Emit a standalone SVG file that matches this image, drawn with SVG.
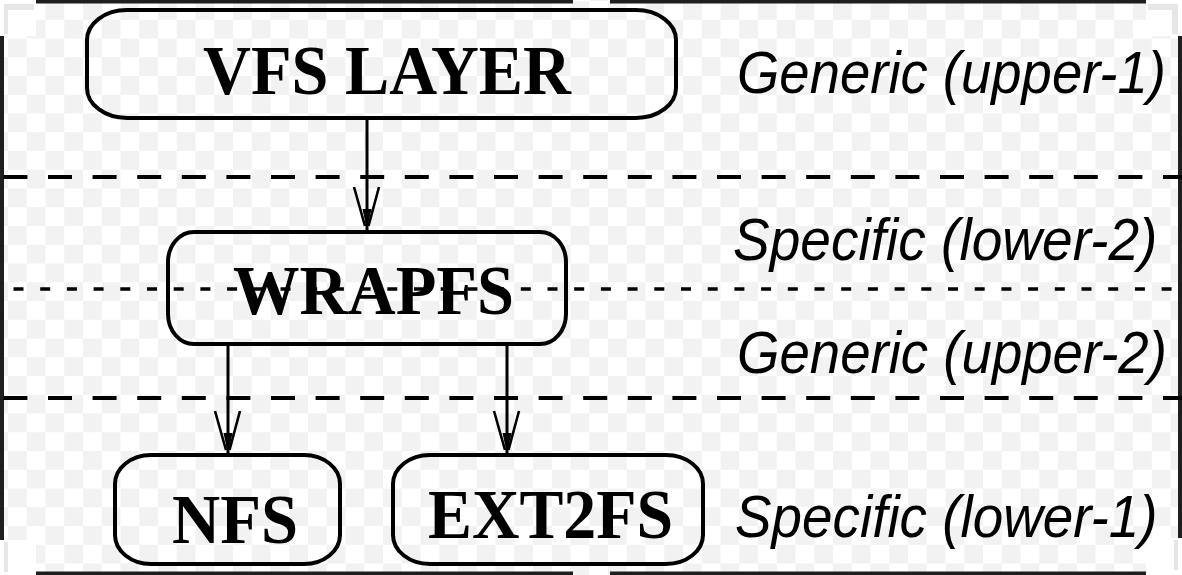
<svg xmlns="http://www.w3.org/2000/svg" width="1182" height="575" viewBox="0 0 1182 575">
<defs>
<pattern id="chk" patternUnits="userSpaceOnUse" x="8" y="1" width="37.5" height="37.5">
<rect width="37.5" height="37.5" fill="#ffffff"/>
<rect width="18.75" height="18.75" fill="#f2f2f2"/>
<rect x="18.75" y="18.75" width="18.75" height="18.75" fill="#f2f2f2"/>
</pattern>
<marker id="arr" markerUnits="userSpaceOnUse" markerWidth="60" markerHeight="40" refX="0" refY="0" orient="auto" overflow="visible">
<path d="M-43,-12 L-4,-1.5 M-43,13 L-4,2" fill="none" stroke="#000" stroke-width="2.6"/>
<path d="M-21,-4.5 L0,0 L-21,4.5 Z" fill="#000"/>
</marker>
<style>
.box{fill:none;stroke:#000;stroke-width:4}
.lbl{font-family:"Liberation Serif","Times New Roman",serif;font-weight:bold;font-size:70px;fill:#000}
.side{font-family:"Liberation Sans",Arial,sans-serif;font-style:italic;font-size:60px;fill:#000}
.dl{stroke:#000;stroke-width:4;fill:none;stroke-dasharray:24 20.6}
.ds{stroke:#000;stroke-width:3.5;fill:none;stroke-dasharray:10 16.7}
.con{stroke:#000;stroke-width:3;fill:none;marker-end:url(#arr)}
.frm{fill:#1e1e1e}
</style>
</defs>
<rect width="1182" height="575" fill="url(#chk)"/>
<g id="frame">
<rect class="frm" x="36" y="0" width="537" height="3.5"/>
<rect class="frm" x="610" y="0" width="538" height="3.5"/>
<rect class="frm" x="36" y="571.5" width="537" height="3.5"/>
<rect class="frm" x="610" y="571.5" width="538" height="3.5"/>
<rect class="frm" x="0" y="36" width="4" height="505"/>
<rect class="frm" x="1178" y="36" width="4" height="502"/>
<rect x="0" y="0" width="36" height="36" fill="#ffffff"/>
<rect x="4" y="4" width="30" height="6" fill="#e6e6e6"/>
<rect x="4" y="4" width="4" height="30" fill="#e6e6e6"/>
<rect x="1146" y="0" width="36" height="36" fill="#ffffff"/>
<rect x="1148" y="4" width="30" height="6" fill="#e6e6e6"/>
<rect x="1172" y="4" width="6" height="30" fill="#e6e6e6"/>
<rect x="0" y="540" width="36" height="35" fill="#ffffff"/>
<rect x="4" y="542" width="4" height="30" fill="#e6e6e6"/>
<rect x="1146" y="538" width="36" height="37" fill="#ffffff"/>
<rect x="1174" y="540" width="4" height="30" fill="#e6e6e6"/>
</g>
<g id="separators">
<line class="dl" x1="3.4" y1="177" x2="1182" y2="177"/>
<line class="ds" x1="13.5" y1="289" x2="1182" y2="289"/>
<line class="dl" x1="3.4" y1="398" x2="1182" y2="398"/>
</g>
<g id="connectors">
<line class="con" x1="367" y1="118" x2="367" y2="230"/>
<line class="con" x1="228" y1="344" x2="228" y2="454"/>
<line class="con" x1="507" y1="344" x2="507" y2="454"/>
</g>
<g id="vfs">
<rect class="box" x="87" y="10" width="589" height="108" rx="40" ry="30"/>
<text class="lbl" x="203" y="94" textLength="368" lengthAdjust="spacingAndGlyphs">VFS LAYER</text>
</g>
<g id="wrapfs">
<rect class="box" x="168" y="232" width="398" height="112" rx="26" ry="30"/>
<text class="lbl" x="233" y="314" textLength="281" lengthAdjust="spacingAndGlyphs">WRAPFS</text>
</g>
<g id="nfs">
<rect class="box" x="115" y="455" width="225" height="109" rx="36" ry="29"/>
<text class="lbl" x="172" y="543" textLength="126" lengthAdjust="spacingAndGlyphs">NFS</text>
</g>
<g id="ext2fs">
<rect class="box" x="393" y="455" width="310" height="109" rx="37" ry="29"/>
<text class="lbl" x="428" y="538" textLength="245" lengthAdjust="spacingAndGlyphs">EXT2FS</text>
</g>
<g id="levels">
<text class="side" transform="translate(737,93) scale(0.908,1)">Generic (upper-1)</text>
<text class="side" transform="translate(733,260) scale(0.918,1)">Specific (lower-2)</text>
<text class="side" transform="translate(737,373) scale(0.91,1)">Generic (upper-2)</text>
<text class="side" transform="translate(735,537) scale(0.914,1)">Specific (lower-1)</text>
</g>
</svg>
